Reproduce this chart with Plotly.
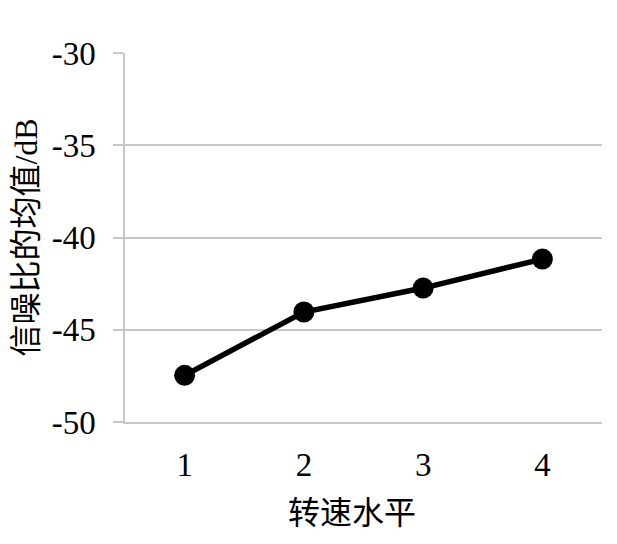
import plotly.graph_objects as go

speed_levels = [1, 2, 3, 4]
snr_mean = [-47.47, -44.04, -42.74, -41.17]
y_ticks = [-50, -45, -40, -35, -30]
y_tick_labels = ["-50", "-45", "-40", "-35", "-30"]
x_title = "转速水平"
y_title = "信噪比的均值/dB"

FONT = "'Liberation Serif', 'Times New Roman', 'Noto Sans CJK SC', serif"

fig = go.Figure()
fig.add_trace(go.Scatter(
    x=speed_levels, y=snr_mean, mode="lines+markers",
    line=dict(color="black", width=5.5),
    marker=dict(color="black", size=21),
    showlegend=False,
))

# page body has an 8px margin, so margins are shifted to compensate
fig.update_layout(
    width=617, height=544,
    margin=dict(l=117, r=23, t=45, b=130),
    paper_bgcolor="white", plot_bgcolor="white",
    font=dict(family=FONT, size=33, color="black"),
)
fig.update_xaxes(
    range=[0.5, 4.5], tickvals=speed_levels, ticktext=[str(v) for v in speed_levels],
    showgrid=False, zeroline=False,
    showline=True, linecolor="#c8c8c8", linewidth=1.5,
    ticks="", ticklabelstandoff=13,
)
fig.update_yaxes(
    range=[-50, -30], tickvals=y_ticks, ticktext=y_tick_labels,
    showgrid=True, gridcolor="#c8c8c8", gridwidth=1.5, zeroline=False,
    showline=True, linecolor="#c8c8c8", linewidth=1.5,
    ticks="outside", ticklen=10, tickcolor="#c8c8c8", tickwidth=1.5,
    ticklabelstandoff=11,
    title=dict(text=y_title, font=dict(size=32), standoff=7),
)
fig.add_annotation(
    text=x_title, xref="paper", yref="paper", x=0.476, y=-0.2466,
    xanchor="center", yanchor="middle", showarrow=False,
    font=dict(size=32),
)

fig.write_html("out.html")
